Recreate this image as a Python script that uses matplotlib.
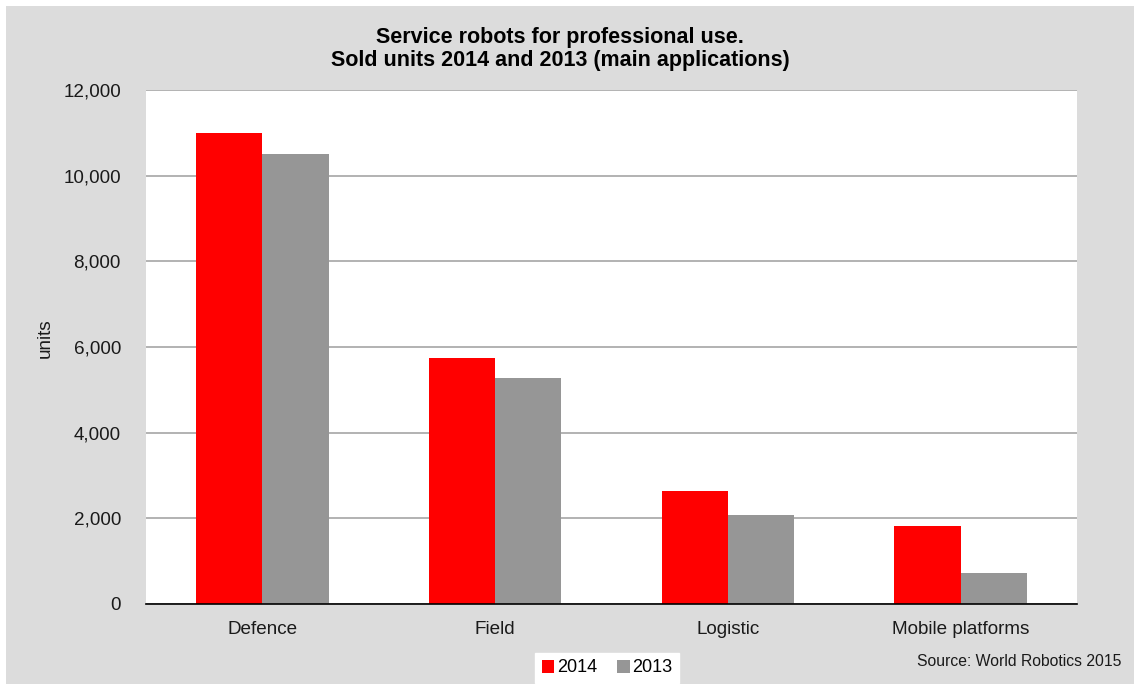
import matplotlib.pyplot as plt
import numpy as np

categories = ["Defence", "Field", "Logistic", "Mobile platforms"]
units_2014 = [11000, 5740, 2640, 1830]
units_2013 = [10500, 5270, 2080, 730]
yticks = [0, 2000, 4000, 6000, 8000, 10000, 12000]

plt.rcParams['font.family'] = ['Liberation Sans', 'DejaVu Sans']

fig = plt.figure(figsize=(11.34, 6.84), dpi=100)
fig.patch.set_facecolor("white")
# gray panel, with a thin white strip at left and top
fig.patches.append(plt.Rectangle((6 / 1134, 0), 1, 1 - 6 / 684, transform=fig.transFigure,
                                 facecolor="#DCDCDC", edgecolor="none", zorder=-10))

ax = fig.add_axes([146 / 1134, 1 - 604 / 684, (1077 - 146) / 1134, (604 - 90) / 684])
ax.set_facecolor("white")

x = np.arange(len(categories))
w = 0.285
ax.bar(x - w / 2, units_2014, w, color="#FF0000", label="2014", zorder=3)
ax.bar(x + w / 2, units_2013, w, color="#969696", label="2013", zorder=3)

ax.set_xlim(-0.5, len(categories) - 0.5)
ax.set_ylim(0, 12000)
ax.set_yticks(yticks)
ax.set_yticklabels([f"{v:,}" for v in yticks], fontsize=13.6, color="#1a1a1a")
ax.set_xticks(x)
ax.set_xticklabels(categories, fontsize=13.6, color="#1a1a1a")
ax.tick_params(axis="both", length=0)
ax.tick_params(axis="y", pad=18)
ax.tick_params(axis="x", pad=12)
ax.grid(axis="y", color="#A6A6A6", linewidth=1.2, zorder=0)
for s in ["left", "right", "top"]:
    ax.spines[s].set_visible(False)
ax.spines["bottom"].set_color("black")
ax.spines["bottom"].set_linewidth(1.2)
ax.spines["bottom"].set_zorder(4)

fig.text(45 / 1134, 1 - 338 / 684, "units", rotation=90, fontsize=13.6,
         ha="center", va="center", color="#1a1a1a")

fig.text(560 / 1134, 1 - 49 / 684,
         "Service robots for professional use.\nSold units 2014 and 2013 (main applications)",
         ha="center", va="center", fontsize=15.5, fontweight="bold", linespacing=1.15)

leg = fig.legend(loc="center", bbox_to_anchor=(607 / 1134, 1 - 668 / 684), ncol=2,
                 fontsize=13, frameon=True, fancybox=False, handlelength=0.7,
                 handleheight=0.7, handletextpad=0.15, columnspacing=1.1,
                 borderpad=0.35, borderaxespad=0)
leg.get_frame().set_facecolor("white")
leg.get_frame().set_edgecolor("white")
leg.get_frame().set_alpha(1)

fig.text(1121 / 1134, 1 - 662 / 684, "Source: World Robotics 2015", ha="right",
         va="center", fontsize=11.3, color="#1a1a1a")

plt.savefig("out.png", dpi=100, facecolor=fig.get_facecolor())
